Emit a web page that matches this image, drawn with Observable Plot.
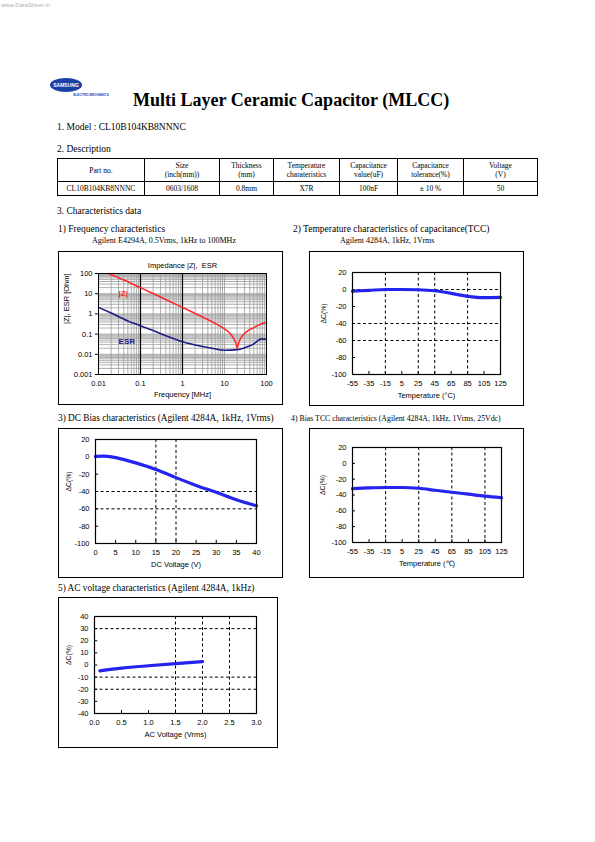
<!DOCTYPE html>
<html><head><meta charset="utf-8">
<script src="https://cdn.jsdelivr.net/npm/d3@7"></script>
<script src="https://cdn.jsdelivr.net/npm/@observablehq/plot@0.6"></script>
<style>
body{margin:0;background:#fff;}
#page{position:relative;width:595px;height:842px;background:#fff;font-family:"Liberation Serif","Times New Roman",serif;color:#000;overflow:hidden;}
.t{position:absolute;white-space:nowrap;}
.box{position:absolute;border:1px solid #000;box-sizing:border-box;}
.chart{position:absolute;}
table.desc{position:absolute;left:57px;top:158px;width:480px;border-collapse:collapse;font-size:7.5px;table-layout:fixed;}
table.desc td{border:1px solid #000;text-align:center;padding:0;line-height:9px;}
</style>
</head><body>
<div id="page"></div>
<script>
// ---------- data ----------
const tableHeaders = ["Part no.", "Size\n(inch(mm))", "Thickness\n(mm)", "Temperature\ncharateristics", "Capacitance\nvalue(uF)", "Capacitance\ntolerance(%)", "Voltage\n(V)"];
const tableRow = ["CL10B104KB8NNNC", "0603/1608", "0.8mm", "X7R", "100nF", "± 10 %", "50"];

const freqZ = [0.017, 0.03, 0.1, 0.3, 1, 3, 6, 10, 14, 17, 19, 20, 21, 23, 27, 35, 50, 70, 100];
const impZ  = [100, 62, 20, 6.8, 2.1, 0.7, 0.34, 0.18, 0.1, 0.055, 0.032, 0.02, 0.028, 0.05, 0.085, 0.14, 0.21, 0.3, 0.38];
const freqE = [0.01, 0.02, 0.05, 0.1, 0.2, 0.5, 1, 2, 5, 10, 20, 30, 50, 65, 75, 100];
const esr   = [2.1, 1.1, 0.45, 0.26, 0.15, 0.07, 0.042, 0.029, 0.02, 0.016, 0.017, 0.021, 0.033, 0.05, 0.058, 0.056];
const freqTicks = [0.01, 0.1, 1, 10, 100];
const impTicks = [0.001, 0.01, 0.1, 1, 10, 100];

const temps = [-55, -35, -15, 5, 25, 45, 65, 85, 105, 125];
const tcc = [-2, -1, 0, 0, -0.3, -1.5, -4.5, -8, -9.5, -9.3];
const biasTcc = [-32, -31, -30.5, -30.5, -31.5, -34, -36.5, -39, -41.5, -43.5];
const capTicks = [-100, -80, -60, -40, -20, 0, 20];

const dcVolts = [0, 2, 4, 6, 10, 15, 20, 25, 30, 35, 40];
const dcCap = [0.5, 0.8, 0, -2, -7, -14.5, -24, -33, -41, -49.5, -56.5];
const dcTicks = [0, 5, 10, 15, 20, 25, 30, 35, 40];

const acVolts = [0.1, 0.5, 1.0, 1.5, 2.0];
const acCap = [-4.8, -2.6, -0.6, 1.2, 2.8];
const acTicks = [0, 0.5, 1, 1.5, 2, 2.5, 3];
const acCapTicks = [-40, -30, -20, -10, 0, 10, 20, 30, 40];

// ---------- page text ----------
const page = document.getElementById("page");
function txt(s, left, cy, size, extra = "") {
  const d = document.createElement("div");
  d.className = "t";
  d.style.cssText = `left:${left}px;top:${cy - size / 2}px;font-size:${size}px;line-height:${size}px;${extra}`;
  d.textContent = s;
  page.appendChild(d);
  return d;
}
txt("www.DataSheet.in", 1, 5, 6, "color:#b0b0b0;font-family:'Liberation Sans',sans-serif;");
// logo
const logo = document.createElement("div");
logo.innerHTML = `<svg width="60" height="24" style="position:absolute;left:49px;top:76px">
<ellipse cx="17" cy="9" rx="16" ry="7" fill="#1d3fa8"/>
<text x="17" y="10.8" text-anchor="middle" font-family="Liberation Sans" font-weight="bold" font-size="5" fill="#fff">SAMSUNG</text>
<text x="42" y="19.5" text-anchor="middle" font-family="Liberation Sans" font-weight="bold" font-size="3.2" fill="#1d3fa8">ELECTRO-MECHANICS</text></svg>`;
page.appendChild(logo);
txt("Multi Layer Ceramic Capacitor (MLCC)", 133, 100, 18, "font-weight:bold;");
txt("1. Model : CL10B104KB8NNNC", 57, 128, 9.5);
txt("2. Description", 57, 150, 9.5);
txt("3. Characteristics data", 57, 212, 9.5);
txt("1) Frequency characteristics", 58, 230, 9.5);
txt("Agilent E4294A, 0.5Vrms, 1kHz to 100MHz", 92, 241, 8);
txt("2) Temperature characteristics of capacitance(TCC)", 293, 230, 9.5);
txt("Agilent 4284A, 1kHz, 1Vrms", 340, 241, 8);
txt("3) DC Bias characteristics (Agilent 4284A, 1kHz, 1Vrms)", 58, 419, 9.3);
txt("4) Bias TCC characteristics (Agilent 4284A, 1kHz, 1Vrms, 25Vdc)", 291, 419, 7.8);
txt("5) AC voltage characteristics (Agilent 4284A, 1kHz)", 58, 589, 9.3);

// table
const colW = [87, 75, 54, 66, 58, 66, 74];
const tbl = document.createElement("table");
tbl.className = "desc";
tbl.innerHTML = `<colgroup>${colW.map(w => `<col style="width:${w}px">`).join("")}</colgroup>
<tr style="height:23px">${tableHeaders.map(h => `<td>${h.replace("\n", "<br>")}</td>`).join("")}</tr>
<tr style="height:14px">${tableRow.map(v => `<td>${v}</td>`).join("")}</tr>`;
page.appendChild(tbl);

// ---------- charts ----------
const baseStyle = {fontFamily: "'Liberation Sans', Arial, sans-serif", fontSize: "7.5px", background: "transparent", overflow: "visible", color: "#000"};
function place(box, frame, spec) {
  const b = document.createElement("div");
  b.className = "box";
  b.style.cssText = `left:${box[0]}px;top:${box[1]}px;width:${box[2] - box[0]}px;height:${box[3] - box[1]}px;`;
  page.appendChild(b);
  const svg = Plot.plot({
    width: box[2] - box[0], height: box[3] - box[1],
    marginLeft: frame[0] - box[0], marginTop: frame[1] - box[1],
    marginRight: box[2] - frame[2], marginBottom: box[3] - frame[3],
    style: baseStyle,
    ...spec
  });
  svg.classList.add("chart");
  svg.style.left = box[0] + "px";
  svg.style.top = box[1] + "px";
  page.appendChild(svg);
}

// chart 1: impedance / ESR (log-log)
{
  const decadesX = [0.01, 0.1, 1, 10];
  const decadesY = [0.001, 0.01, 0.1, 1, 10];
  const minorX = decadesX.flatMap(d => [1,2,3,4,5,6,7,8,9].map(k => d * k)).concat([100]);
  const minorY = decadesY.flatMap(d => [1,2,3,4,5,6,7,8,9].map(k => d * k)).concat([100]);
  const zData = freqZ.map((f, i) => ({f, v: impZ[i]}));
  const eData = freqE.map((f, i) => ({f, v: esr[i]}));
  place([58, 251, 283, 405], [98, 273, 266, 374], {
    x: {type: "log", domain: [0.01, 100]},
    y: {type: "log", domain: [0.001, 100]},
    marks: [
      Plot.ruleX(minorX, {stroke: "#9a9a9a", strokeWidth: 0.8}),
      Plot.ruleY(minorY, {stroke: "#9a9a9a", strokeWidth: 0.8}),
      Plot.ruleX([0.1, 1], {stroke: "#000", strokeWidth: 1.2}),
      Plot.line(eData, {x: "f", y: "v", stroke: "#1c1c84", strokeWidth: 1.6, curve: "monotone-x"}),
      Plot.line(zData, {x: "f", y: "v", stroke: "#ff2a2a", strokeWidth: 1.6, curve: "monotone-x"}),
      Plot.frame({stroke: "#000"}),
      Plot.axisX(freqTicks, {tickSize: 0, tickPadding: 6, label: null, tickFormat: d => String(d)}),
      Plot.axisY(impTicks, {tickSize: 3, tickPadding: 3, label: null, tickFormat: d => String(d)}),
      Plot.text(["|Z|"], {x: 0.03, y: 10, text: d => d, textAnchor: "start", fill: "#ff2a2a", fontWeight: "bold", fontSize: 8}),
      Plot.text(["ESR"], {x: 0.03, y: 0.045, text: d => d, textAnchor: "start", fill: "#1c1c84", fontWeight: "bold", fontSize: 8}),
      Plot.text(["Impedance |Z|,  ESR"], {frameAnchor: "top", dy: -11, text: d => d}),
      Plot.text(["Frequency [MHz]"], {frameAnchor: "bottom", dy: 22, text: d => d}),
      Plot.text(["|Z|, ESR [Ohm]"], {frameAnchor: "left", dx: -32, rotate: -90, text: d => d})
    ]
  });
}

function capChart({box, frame, xs, ys, xDomain, yDomain, xTicks, yTicks, dashX, dashY, xLabel, yLabelDx, xFormat}) {
  const data = xs.map((x, i) => ({x, y: ys[i]}));
  const xr = xDomain[1] - xDomain[0], yr = yDomain[1] - yDomain[0];
  place(box, frame, {
    x: {domain: xDomain},
    y: {domain: yDomain},
    marks: [
      Plot.ruleX(dashX, {stroke: "#000", strokeWidth: 1, strokeDasharray: "3,2.5"}),
      Plot.ruleY(dashY, {stroke: "#000", strokeWidth: 1, strokeDasharray: "3,2.5"}),
      Plot.ruleX(xTicks, {y1: yDomain[0], y2: yDomain[0] + yr * 0.03, stroke: "#000"}),
      Plot.ruleY(yTicks, {x1: xDomain[0], x2: xDomain[0] + xr * 0.02, stroke: "#000"}),
      Plot.line(data, {x: "x", y: "y", stroke: "#2424ee", strokeWidth: 3.2, curve: "monotone-x"}),
      Plot.frame({stroke: "#000", strokeWidth: 1.2}),
      Plot.axisX(xTicks, {tickSize: 0, tickPadding: 6, label: null, tickFormat: xFormat || (d => String(d))}),
      Plot.axisY(yTicks, {tickSize: 0, tickPadding: 6, label: null, tickFormat: d => String(d)}),
      Plot.text([xLabel], {frameAnchor: "bottom", dy: 23, text: d => d}),
      Plot.text(["ΔC(%)"], {frameAnchor: "left", dx: yLabelDx, rotate: -90, text: d => d, fontSize: 6.8})
    ]
  });
}

capChart({box: [309, 251, 524, 406], frame: [352, 272, 500, 374], xs: temps, ys: tcc,
  xDomain: [-55, 125], yDomain: [-100, 20], xTicks: temps, yTicks: capTicks,
  dashX: [-15, 25, 45, 85], dashY: [0, -40, -60], xLabel: "Temperature (°C)", yLabelDx: -29});

capChart({box: [58, 428, 283, 578], frame: [95, 439, 256, 543], xs: dcVolts, ys: dcCap,
  xDomain: [0, 40], yDomain: [-100, 20], xTicks: dcTicks, yTicks: capTicks,
  dashX: [15, 20], dashY: [-40, -60], xLabel: "DC Voltage (V)", yLabelDx: -27});

capChart({box: [309, 428, 524, 578], frame: [352, 447, 501, 542], xs: temps, ys: biasTcc,
  xDomain: [-55, 125], yDomain: [-100, 20], xTicks: temps, yTicks: capTicks,
  dashX: [-15, 25, 65, 105], dashY: [], xLabel: "Temperature (℃)", yLabelDx: -30});

capChart({box: [58, 597, 278, 748], frame: [94, 616, 256, 713], xs: acVolts, ys: acCap,
  xDomain: [0, 3], yDomain: [-40, 40], xTicks: acTicks, yTicks: acCapTicks,
  dashX: [1.5, 2, 2.5], dashY: [30, -10, -20], xLabel: "AC Voltage (Vrms)", yLabelDx: -26,
  xFormat: d3.format(".1f")});
</script>
</body></html>
